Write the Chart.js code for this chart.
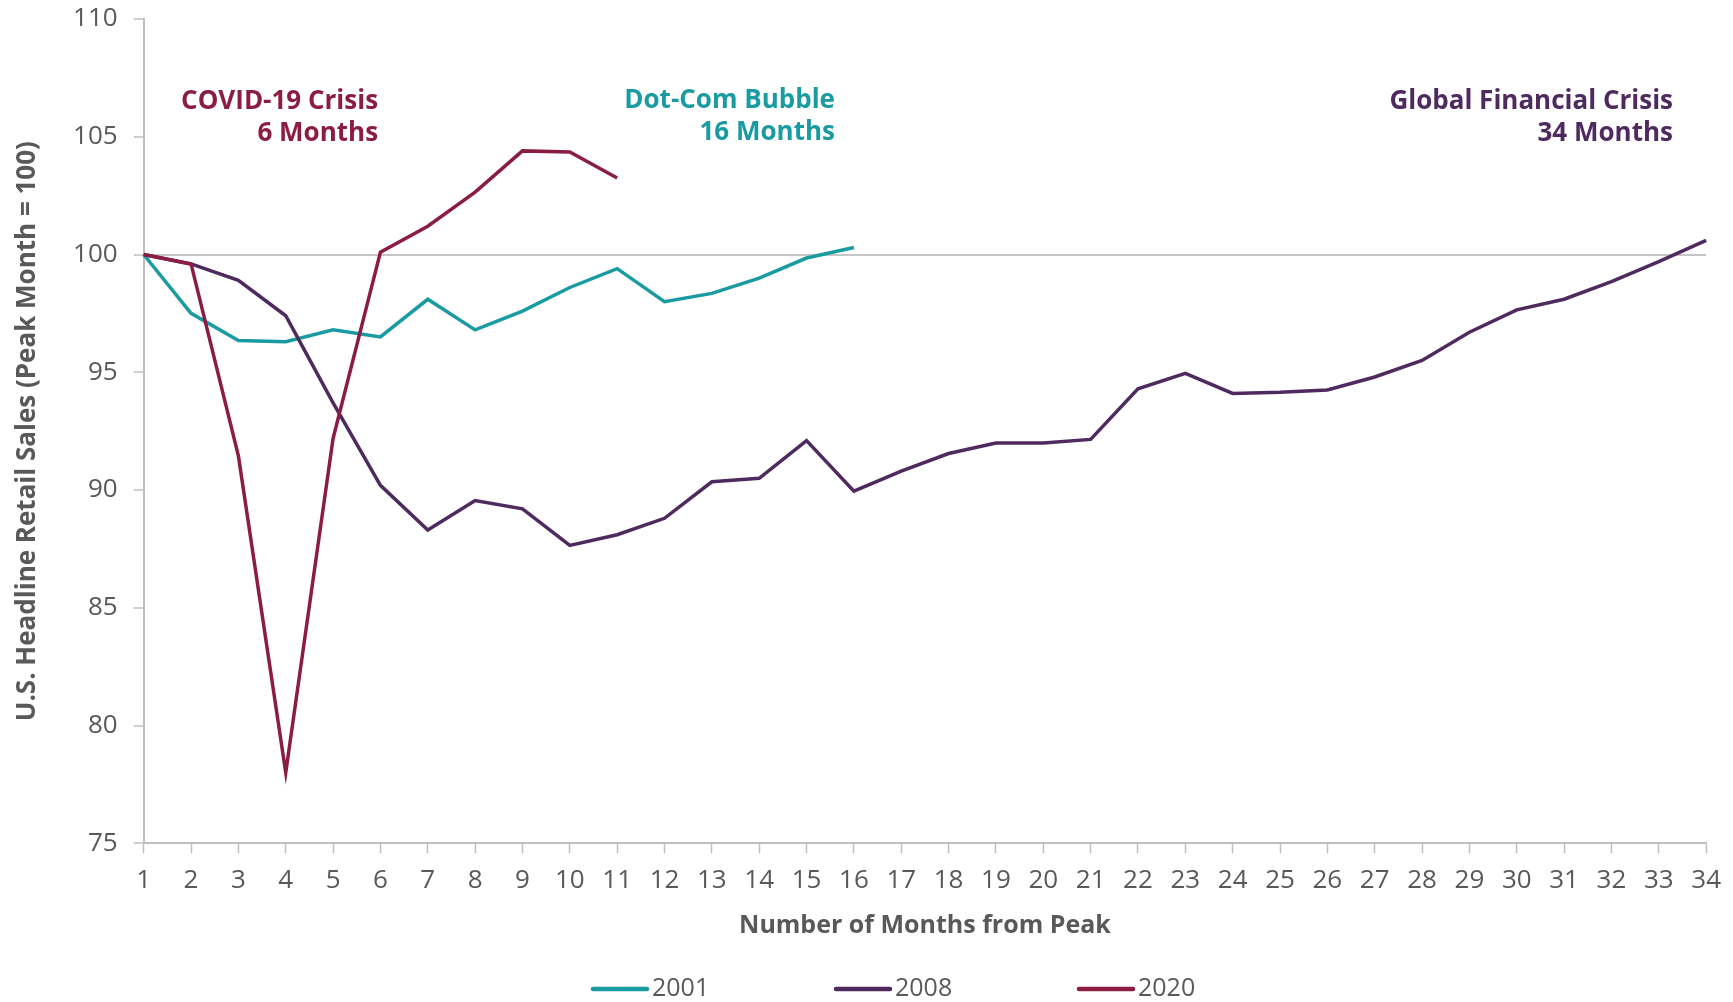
<!DOCTYPE html>
<html>
<head>
<meta charset="utf-8">
<script src="https://cdn.jsdelivr.net/npm/chart.js@4.4.1/dist/chart.umd.min.js"></script>
<style>
  html, body { margin: 0; padding: 0; background: #fff; }
  canvas { display: block; }
</style>
</head>
<body>
<canvas id="chart" width="1733" height="1002"></canvas>
<script>
// months after the peak
const months = ['1', '2', '3', '4', '5', '6', '7', '8', '9', '10', '11', '12', '13', '14', '15', '16', '17',
  '18', '19', '20', '21', '22', '23', '24', '25', '26', '27', '28', '29', '30', '31', '32', '33', '34'];

// retail sales index, peak month = 100
const sales2001 = [100, 97.5, 96.35, 96.3, 96.8, 96.5, 98.1, 96.8, 97.6, 98.6, 99.4, 98.0, 98.35, 99.0, 99.85, 100.3];
const sales2008 = [100, 99.6, 98.9, 97.4, 93.7, 90.2, 88.3, 89.55, 89.2, 87.65, 88.1, 88.8, 90.35, 90.5, 92.1, 89.95,
  90.8, 91.55, 92.0, 92.0, 92.15, 94.3, 94.95, 94.1, 94.15, 94.25, 94.8, 95.5, 96.7, 97.65, 98.1, 98.85, 99.7, 100.6];
const sales2020 = [100, 99.6, 91.45, 78.0, 92.2, 100.1, 101.2, 102.65, 104.4, 104.35, 103.25];

const seriesNames = ['2001', '2008', '2020'];
const noteTitles = ['Dot-Com Bubble', 'Global Financial Crisis', 'COVID-19 Crisis'];
const noteDurations = ['16 Months', '34 Months', '6 Months'];

const TEAL = '#1A9BA1';
const PURPLE = '#4F2A5F';
const CRIMSON = '#8B1D44';
const GREY = '#595959';
const AXIS = '#BFBFBF';

// text blocks pinned to the axes (month, index value of the first line's centre)
const noteLabels = {
  id: 'noteLabels',
  afterDatasetsDraw(chart, args, opts) {
    const { ctx, scales: { x, y } } = chart;
    ctx.save();
    ctx.font = 'bold 26px "Open Sans"';
    ctx.textAlign = 'right';
    ctx.textBaseline = 'middle';
    opts.items.forEach((n, i) => {
      const px = x.getPixelForValue(n.month - 1);
      const py = y.getPixelForValue(n.value);
      ctx.fillStyle = n.color;
      ctx.fillText(noteTitles[i], px, py);
      ctx.fillText(noteDurations[i], px, py + 32);
    });
    ctx.restore();
  }
};

// legend drawn under the axis title
const bottomLegend = {
  id: 'bottomLegend',
  afterDraw(chart, args, opts) {
    const { ctx } = chart;
    ctx.save();
    ctx.font = '25px "Open Sans"';
    ctx.textBaseline = 'middle';
    ctx.textAlign = 'left';
    let x = opts.startX;
    chart.data.datasets.forEach(ds => {
      ctx.strokeStyle = ds.borderColor;
      ctx.lineWidth = 4.5;
      ctx.lineCap = 'round';
      ctx.beginPath();
      ctx.moveTo(x, opts.y);
      ctx.lineTo(x + opts.lineLen, opts.y);
      ctx.stroke();
      ctx.fillStyle = GREY;
      ctx.fillText(ds.label, x + opts.lineLen + opts.gap, opts.y);
      x += opts.stride;
    });
    ctx.restore();
  }
};

function lineSet(label, data, color, order) {
  return {
    label, data,
    borderColor: color,
    backgroundColor: color,
    borderWidth: 3.5,
    pointRadius: 0,
    tension: 0,
    order
  };
}

Promise.all([
  document.fonts.load('26px "Open Sans"'),
  document.fonts.load('bold 26px "Open Sans"')
]).catch(() => {}).then(() => {
  const ctx = document.getElementById('chart').getContext('2d');
  new Chart(ctx, {
    type: 'line',
    data: {
      labels: months,
      datasets: [
        lineSet(seriesNames[0], sales2001, TEAL, 2),
        lineSet(seriesNames[1], sales2008, PURPLE, 1),
        lineSet(seriesNames[2], sales2020, CRIMSON, 0)
      ]
    },
    plugins: [noteLabels, bottomLegend],
    options: {
      responsive: false,
      animation: false,
      devicePixelRatio: 1,
      layout: { padding: { top: 19, right: 26.5, bottom: 50, left: 0 } },
      plugins: {
        legend: { display: false },
        tooltip: { enabled: false },
        noteLabels: {
          items: [
            { month: 15.6, value: 106.55, color: TEAL },
            { month: 33.3, value: 106.5, color: PURPLE },
            { month: 5.95, value: 106.5, color: CRIMSON }
          ]
        },
        bottomLegend: { startX: 593, y: 989, lineLen: 54, gap: 5, stride: 243 }
      },
      scales: {
        x: {
          type: 'category',
          offset: false,
          afterFit: (scale) => { scale.height = 1002 - 843.3 - 50; },
          grid: { drawOnChartArea: false, tickLength: 10, tickColor: AXIS, tickWidth: 1.5 },
          border: { color: AXIS, width: 2 },
          ticks: {
            color: GREY, padding: 12, maxRotation: 0, autoSkip: false,
            font: { family: 'Open Sans', size: 26 }
          },
          title: {
            display: true,
            text: 'Number of Months from Peak',
            color: GREY,
            font: { family: 'Open Sans', size: 25, weight: 'bold' },
            padding: { top: 0, bottom: 11 }
          }
        },
        y: {
          min: 75,
          max: 110,
          afterFit: (scale) => {
            scale.width = 143.7;
            scale.paddingTop = 0;
            scale.paddingBottom = 0;
          },
          grid: {
            color: (c) => (c.tick && c.tick.value === 100 ? '#C6C6C6' : 'rgba(0,0,0,0)'),
            lineWidth: 2,
            tickLength: 10,
            tickColor: AXIS,
            tickWidth: 1.5
          },
          border: { color: AXIS, width: 2 },
          ticks: {
            stepSize: 5, color: GREY, padding: 16,
            font: { family: 'Open Sans', size: 26 }
          },
          title: {
            display: true,
            text: 'U.S. Headline Retail Sales (Peak Month = 100)',
            color: GREY,
            font: { family: 'Open Sans', size: 26, weight: 'bold' },
            padding: { top: 12, bottom: 0 }
          }
        }
      }
    }
  });
});
</script>
</body>
</html>
